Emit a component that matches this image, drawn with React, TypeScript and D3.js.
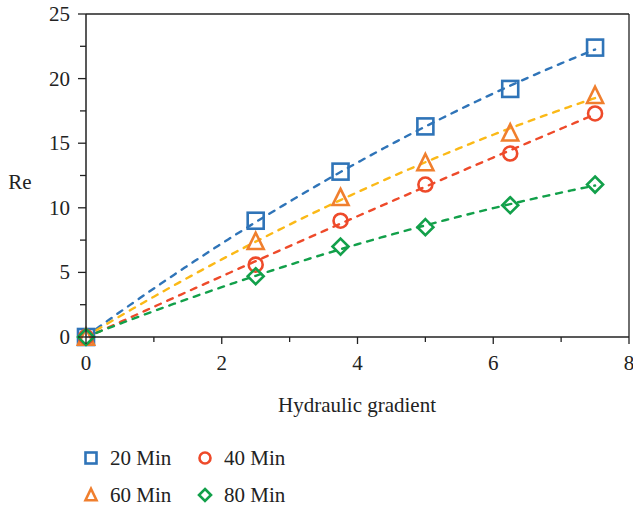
import React from "react";
import * as d3 from "d3";

const gradients = [0, 2.5, 3.75, 5, 6.25, 7.5];
const re20 = [0, 9.0, 12.8, 16.3, 19.2, 22.4];
const re40 = [0, 5.6, 9.0, 11.8, 14.2, 17.3];
const re60 = [0, 7.4, 10.8, 13.5, 15.8, 18.7];
const re80 = [0, 4.7, 7.0, 8.5, 10.2, 11.8];
const seriesNames = ["20 Min", "40 Min", "60 Min", "80 Min"];
const xTicks = [0, 2, 4, 6, 8];
const yTicks = [0, 5, 10, 15, 20, 25];

const W = 633, H = 511;
const M = { left: 86, right: 629, top: 14, bottom: 337 };
const FONT = "'Liberation Serif', 'Times New Roman', serif";
const FS = 21;

type Shape = "square" | "circle" | "triangle" | "diamond";
const series: { name: string; values: number[]; marker: string; line: string; shape: Shape }[] = [
  { name: seriesNames[0], values: re20, marker: "#2f74b8", line: "#2f74b8", shape: "square" },
  { name: seriesNames[2], values: re60, marker: "#f07f2e", line: "#fbb917", shape: "triangle" },
  { name: seriesNames[1], values: re40, marker: "#ee4a2a", line: "#ee4a2a", shape: "circle" },
  { name: seriesNames[3], values: re80, marker: "#12a04a", line: "#12a04a", shape: "diamond" },
];

function quadFit(xs: number[], ys: number[]) {
  let s0 = 0, s1 = 0, s2 = 0, s3 = 0, s4 = 0, t0 = 0, t1 = 0, t2 = 0;
  xs.forEach((x, i) => {
    const y = ys[i];
    s0 += 1; s1 += x; s2 += x * x; s3 += x ** 3; s4 += x ** 4;
    t0 += y; t1 += x * y; t2 += x * x * y;
  });
  const A = [[s0, s1, s2, t0], [s1, s2, s3, t1], [s2, s3, s4, t2]];
  for (let i = 0; i < 3; i++) {
    for (let k = i + 1; k < 3; k++) {
      const f = A[k][i] / A[i][i];
      for (let j = i; j < 4; j++) A[k][j] -= f * A[i][j];
    }
  }
  const c = A[2][3] / A[2][2];
  const b = (A[1][3] - A[1][2] * c) / A[1][1];
  const a = (A[0][3] - A[0][1] * b - A[0][2] * c) / A[0][0];
  return (x: number) => a + b * x + c * x * x;
}

function Marker({ shape, x, y, color, size }: { shape: Shape; x: number; y: number; color: string; size: number }) {
  const sw = 2.6;
  if (shape === "square") {
    return <rect x={x - size / 2} y={y - size / 2} width={size} height={size} fill="none" stroke={color} strokeWidth={sw} />;
  }
  if (shape === "circle") {
    return <circle cx={x} cy={y} r={size / 2} fill="none" stroke={color} strokeWidth={sw} />;
  }
  if (shape === "triangle") {
    const h = size * 0.95;
    const p = `${x},${y - h / 2 - 1} ${x + size / 2},${y + h / 2} ${x - size / 2},${y + h / 2}`;
    return <polygon points={p} fill="none" stroke={color} strokeWidth={sw} strokeLinejoin="miter" />;
  }
  const r = size / 2;
  return <polygon points={`${x},${y - r} ${x + r},${y} ${x},${y + r} ${x - r},${y}`} fill="none" stroke={color} strokeWidth={sw} />;
}

export default function App() {
  const x = d3.scaleLinear().domain([0, 8]).range([M.left, M.right]);
  const y = d3.scaleLinear().domain([0, 25]).range([M.bottom, M.top]);
  const samples = d3.range(0.15, 7.5001, 0.05);

  const xMinor = [1, 3, 5, 7];
  const yMinor = [2.5, 7.5, 12.5, 17.5, 22.5];

  return (
    <svg width={W} height={H} style={{ position: "absolute", left: 0, top: 0, background: "#fff" }} fontFamily={FONT}>
      {series.map((s) => {
        const f = quadFit(gradients, s.values);
        const pts = samples.map((g) => [x(g), y(f(g))] as [number, number]);
        const path = d3.line()(pts) || "";
        return <path key={s.name + "l"} d={path} fill="none" stroke={s.line} strokeWidth={2.4} strokeDasharray="6 7" strokeLinecap="round" />;
      })}
      {series.map((s) =>
        gradients.map((g, i) => (
          <Marker key={s.name + i} shape={s.shape} x={x(g)} y={y(s.values[i])} color={s.marker}
            size={s.shape === "diamond" ? 16 : s.shape === "circle" ? 14 : 16} />
        ))
      )}
      <line x1={M.left} x2={M.right} y1={M.top} y2={M.top} stroke="#222" strokeWidth={1.3} />
      <line x1={M.right} x2={M.right} y1={M.top} y2={M.bottom} stroke="#222" strokeWidth={1.3} />
      <line x1={M.left} x2={M.left} y1={M.top} y2={M.bottom} stroke="#222" strokeWidth={1.5} />
      <line x1={M.left} x2={M.right} y1={M.bottom} y2={M.bottom} stroke="#222" strokeWidth={1.5} />
      {xTicks.map((t) => (
        <g key={"xt" + t}>
          <line x1={x(t)} x2={x(t)} y1={M.bottom} y2={M.bottom + 7} stroke="#222" strokeWidth={1.3} />
          <text x={x(t)} y={370} textAnchor="middle" fontSize={FS} fill="#222">{t}</text>
        </g>
      ))}
      {xMinor.map((t) => (
        <line key={"xm" + t} x1={x(t)} x2={x(t)} y1={M.bottom} y2={M.bottom + 5} stroke="#222" strokeWidth={1.3} />
      ))}
      {yTicks.map((t) => (
        <g key={"yt" + t}>
          <line x1={M.left - 8} x2={M.left} y1={y(t)} y2={y(t)} stroke="#222" strokeWidth={1.3} />
          <text x={70} y={y(t) + 7} textAnchor="end" fontSize={FS} fill="#222">{t}</text>
        </g>
      ))}
      {yMinor.map((t) => (
        <line key={"ym" + t} x1={M.left - 6} x2={M.left} y1={y(t)} y2={y(t)} stroke="#222" strokeWidth={1.3} />
      ))}
      <text x={20} y={189} textAnchor="middle" fontSize={FS} fill="#222">Re</text>
      <text x={357} y={412} textAnchor="middle" fontSize={FS} fill="#222">Hydraulic gradient</text>
      {[
        { s: series[0], lx: 91, ly: 458 },
        { s: series[2], lx: 205, ly: 458 },
        { s: series[1], lx: 91, ly: 495 },
        { s: series[3], lx: 205, ly: 495 },
      ].map(({ s, lx, ly }) => (
        <g key={"lg" + s.name}>
          <Marker shape={s.shape} x={lx} y={ly} color={s.marker} size={s.shape === "diamond" ? 12 : 11} />
          <text x={lx + 19} y={ly + 7} fontSize={FS} fill="#222">{s.name}</text>
        </g>
      ))}
    </svg>
  );
}
